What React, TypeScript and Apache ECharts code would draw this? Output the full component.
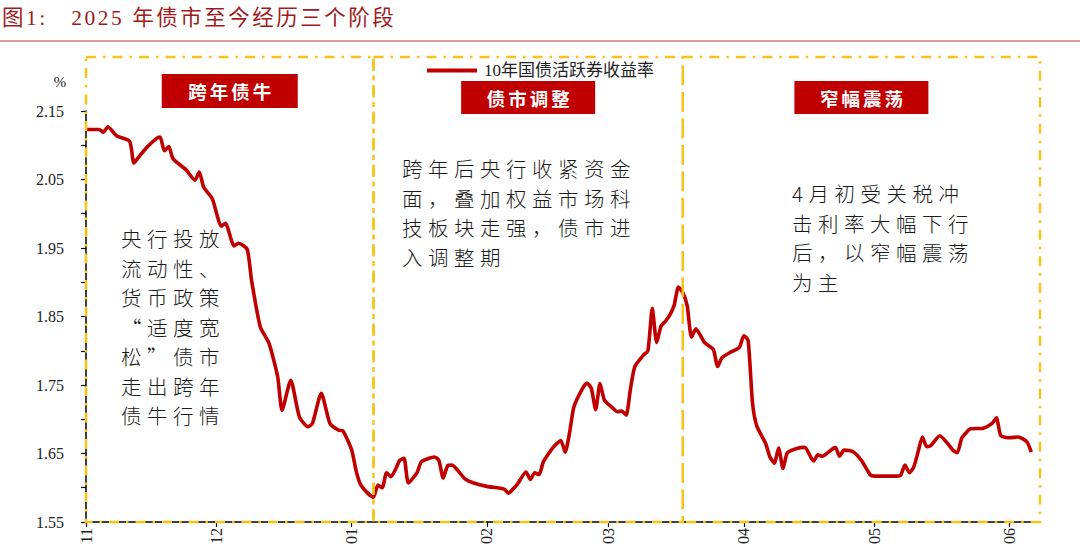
import React, { useEffect, useRef } from "react";
import * as echarts from "echarts";

// ---------------- data ----------------
const titleText = "图1:   2025 年债市至今经历三个阶段";
const seriesName = "10年国债活跃券收益率";
const unitLabel = "%";

const dates = [
  "2024-11-01", "2024-11-04", "2024-11-05", "2024-11-06", "2024-11-08", "2024-11-11", "2024-11-12",
  "2024-11-13", "2024-11-15", "2024-11-17", "2024-11-18", "2024-11-19", "2024-11-20", "2024-11-21",
  "2024-11-24", "2024-11-26", "2024-11-27", "2024-11-28", "2024-11-30", "2024-12-01", "2024-12-02",
  "2024-12-03", "2024-12-05", "2024-12-06", "2024-12-08", "2024-12-09", "2024-12-11", "2024-12-13",
  "2024-12-15", "2024-12-16", "2024-12-18", "2024-12-20", "2024-12-22", "2024-12-23", "2024-12-25",
  "2024-12-27", "2024-12-29", "2024-12-30", "2025-01-01", "2025-01-02", "2025-01-03", "2025-01-05",
  "2025-01-06", "2025-01-07", "2025-01-08", "2025-01-09", "2025-01-10", "2025-01-11", "2025-01-12",
  "2025-01-13", "2025-01-14", "2025-01-16", "2025-01-17", "2025-01-20", "2025-01-21", "2025-01-22",
  "2025-01-23", "2025-01-24", "2025-01-27", "2025-01-29", "2025-02-01", "2025-02-05", "2025-02-06",
  "2025-02-07", "2025-02-08", "2025-02-10", "2025-02-11", "2025-02-12", "2025-02-13", "2025-02-14",
  "2025-02-16", "2025-02-17", "2025-02-18", "2025-02-19", "2025-02-20", "2025-02-21", "2025-02-23",
  "2025-02-24", "2025-02-25", "2025-02-26", "2025-02-27", "2025-02-28", "2025-03-02", "2025-03-03",
  "2025-03-04", "2025-03-05", "2025-03-06", "2025-03-07", "2025-03-09", "2025-03-10", "2025-03-11",
  "2025-03-12", "2025-03-13", "2025-03-14", "2025-03-15", "2025-03-16", "2025-03-17", "2025-03-18",
  "2025-03-19", "2025-03-20", "2025-03-21", "2025-03-23", "2025-03-25", "2025-03-26", "2025-03-27",
  "2025-03-29", "2025-03-31", "2025-04-01", "2025-04-02", "2025-04-03", "2025-04-04", "2025-04-06",
  "2025-04-07", "2025-04-08", "2025-04-09", "2025-04-10", "2025-04-11", "2025-04-13", "2025-04-15",
  "2025-04-17", "2025-04-18", "2025-04-19", "2025-04-22", "2025-04-23", "2025-04-24", "2025-04-26",
  "2025-04-28", "2025-04-30", "2025-05-01", "2025-05-06", "2025-05-07", "2025-05-08", "2025-05-09",
  "2025-05-10", "2025-05-11", "2025-05-12", "2025-05-13", "2025-05-14", "2025-05-16", "2025-05-18",
  "2025-05-19", "2025-05-20", "2025-05-21", "2025-05-22", "2025-05-23", "2025-05-26", "2025-05-28",
  "2025-05-29", "2025-05-30", "2025-06-01", "2025-06-03", "2025-06-05", "2025-06-06",
];

const yields = [
  2.123, 2.123, 2.119, 2.127, 2.114, 2.106, 2.074,
  2.082, 2.097, 2.109, 2.112, 2.092, 2.098, 2.080,
  2.064, 2.049, 2.061, 2.039, 2.022, 2.000, 1.982,
  1.986, 1.953, 1.957, 1.948, 1.903, 1.835, 1.811,
  1.762, 1.713, 1.757, 1.703, 1.689, 1.694, 1.738,
  1.694, 1.684, 1.683, 1.655, 1.625, 1.605, 1.590,
  1.586, 1.604, 1.600, 1.622, 1.616, 1.626, 1.640,
  1.643, 1.607, 1.622, 1.638, 1.645, 1.640, 1.614,
  1.632, 1.633, 1.613, 1.607, 1.602, 1.598, 1.592,
  1.598, 1.605, 1.623, 1.612, 1.622, 1.619, 1.638,
  1.657, 1.664, 1.669, 1.652, 1.680, 1.718, 1.745,
  1.753, 1.745, 1.714, 1.752, 1.728, 1.716, 1.711,
  1.712, 1.706, 1.745, 1.777, 1.794, 1.800, 1.862,
  1.812, 1.836, 1.843, 1.852, 1.866, 1.893, 1.885,
  1.866, 1.820, 1.832, 1.812, 1.802, 1.777, 1.790,
  1.798, 1.805, 1.822, 1.815, 1.724, 1.690, 1.665,
  1.645, 1.636, 1.658, 1.628, 1.651, 1.657, 1.659,
  1.639, 1.648, 1.646, 1.659, 1.646, 1.655, 1.653,
  1.640, 1.619, 1.617, 1.617, 1.618, 1.633, 1.622,
  1.630, 1.652, 1.674, 1.660, 1.662, 1.676, 1.663,
  1.655, 1.651, 1.672, 1.680, 1.686, 1.687, 1.694,
  1.702, 1.676, 1.673, 1.674, 1.667, 1.652,
];

const axisStart = "2024-11-01";
const axisEnd = "2025-06-08";
const monthTicks = ["2024-11-01", "2024-12-01", "2025-01-01", "2025-02-01", "2025-03-01", "2025-04-01", "2025-05-01", "2025-06-01"];
const monthLabels = ["11", "12", "01", "02", "03", "04", "05", "06"];

const yMin = 1.55;
const yMax = 2.15;
const yInterval = 0.05;

const phaseBounds = ["2024-11-01", "2025-01-06", "2025-03-18", "2025-06-08"];
const phaseNames = ["跨年债牛", "债市调整", "窄幅震荡"];
const phaseNotes = [
  ["央行投放", "流动性、", "货币政策", "“适度宽", "松”债市", "走出跨年", "债牛行情"],
  ["跨年后央行收紧资金", "面，叠加权益市场科", "技板块走强，债市进", "入调整期"],
  ["4月初受关税冲", "击利率大幅下行", "后，以窄幅震荡", "为主"],
];

// ---------------- layout / style ----------------
const W = 1080;
const H = 547;
const RED = "#c00000";
const GOLD = "#f7c21a";
const SERIF = "'Liberation Serif', 'Times New Roman', 'Noto Sans CJK SC', serif";
const CJK = "'Noto Sans CJK SC', 'Liberation Serif', sans-serif";
const boxTop = 57;
const labelTops = [74, 81, 81];
const labelSizes = [[136, 34], [134, 33], [134, 33]];
const notePos = [[121, 238], [402, 168], [792, 193]];
const noteLineHeight = 29.5;

const css = `
text[style*="20.5px"] { letter-spacing: 5.5px; }
text[style*="21.5px"] { letter-spacing: 2.5px; }
text[style*="18.5px"] { letter-spacing: 3px; }
`;

const DAY = 86400000;
const parseDay = (s: string) => {
  const [y, m, d] = s.split("-").map(Number);
  return Date.UTC(y, m - 1, d) / DAY;
};

export default function App() {
  const ref = useRef<HTMLDivElement>(null);

  useEffect(() => {
    document.body.style.margin = "0";
    const chart = echarts.init(ref.current!, null, { renderer: "svg", width: W, height: H });
    const data = dates.map((d, i) => [parseDay(d), yields[i]]);
    const tickDays = monthTicks.map(parseDay);
    const labelMap = new Map<number, string>(tickDays.map((t, i) => [t, monthLabels[i]]));

    chart.setOption({
      animation: false,
      backgroundColor: "#fff",
      grid: { left: 86, right: 40, top: 111, bottom: 25, outerBoundsMode: "none", containLabel: false },
      legend: {
        show: true,
        left: 422,
        top: 57,
        icon: "rect",
        itemWidth: 50,
        itemHeight: 4,
        itemGap: 6,
        itemStyle: { color: RED },
        data: [seriesName],
        textStyle: { fontSize: 17, fontFamily: SERIF, color: "#222", padding: [0, 0, 0, 2] },
      },
      tooltip: { show: false },
      xAxis: {
        type: "value",
        min: parseDay(axisStart),
        max: parseDay(axisEnd),
        splitLine: { show: false },
        axisLine: { show: true, onZero: false, lineStyle: { color: "#000", width: 1.5 } },
        axisTick: { show: true, customValues: tickDays, length: 5, lineStyle: { color: "#000", width: 1.2 } },
        axisLabel: {
          customValues: tickDays,
          rotate: 90,
          margin: 6,
          fontSize: 16,
          fontFamily: SERIF,
          color: "#222",
          hideOverlap: false,
          showMinLabel: true,
          showMaxLabel: true,
          formatter: (v: number) => labelMap.get(Math.round(v)) ?? "",
        },
      },
      yAxis: {
        type: "value",
        min: yMin,
        max: yMax,
        interval: yInterval,
        splitLine: { show: false },
        axisLine: { show: true, lineStyle: { color: "#000", width: 1.5 } },
        axisTick: { show: true, length: 5, lineStyle: { color: "#000", width: 1.2 } },
        axisLabel: {
          margin: 22,
          fontSize: 16,
          fontFamily: SERIF,
          color: "#222",
          formatter: (v: number) => (Math.round(v * 100) % 10 === 5 ? v.toFixed(2) : ""),
        },
      },
      series: [
        {
          name: seriesName,
          type: "line",
          data,
          symbol: "none",
          showSymbol: false,
          smooth: 0.2,
          lineStyle: { color: RED, width: 3.6 },
          itemStyle: { color: RED },
          z: 3,
        },
      ],
    });

    const px = phaseBounds.map((d) => chart.convertToPixel({ xAxisIndex: 0 }, parseDay(d)) as number);
    const yBottom = chart.convertToPixel({ yAxisIndex: 0 }, yMin) as number;

    const graphics: any[] = [
      {
        type: "text",
        x: 2,
        y: 18,
        style: { text: titleText, fontSize: 21.5, fontFamily: SERIF, fill: "#9e1b20", verticalAlign: "middle", align: "left" },
      },
      {
        type: "line",
        shape: { x1: 0, y1: 41, x2: W, y2: 41 },
        style: { stroke: "#c8353a", lineWidth: 1.2 },
      },
      {
        type: "text",
        x: 60,
        y: 82,
        style: { text: unitLabel, fontSize: 15, fontFamily: SERIF, fill: "#222", align: "center", verticalAlign: "middle" },
      },
    ];

    phaseNames.forEach((name, i) => {
      const x0 = px[i];
      const x1 = px[i + 1];
      const cx = (x0 + x1) / 2;
      graphics.push({
        type: "rect",
        z: 20,
        shape: { x: x0, y: boxTop, width: x1 - x0, height: yBottom - boxTop },
        style: { fill: "none", stroke: GOLD, lineWidth: 2.5, lineDash: [10, 7, 2.5, 7] },
      });
      const [lw, lh] = labelSizes[i];
      graphics.push({
        type: "rect",
        z: 21,
        shape: { x: cx - lw / 2, y: labelTops[i], width: lw, height: lh },
        style: { fill: RED },
      });
      graphics.push({
        type: "text",
        z: 22,
        x: cx + 1.5,
        y: labelTops[i] + lh / 2,
        style: { text: name, fontSize: 18.5, fontWeight: "bold", fontFamily: CJK, fill: "#fff", align: "center", verticalAlign: "middle" },
      });
      const [nx, ny] = notePos[i];
      graphics.push({
        type: "text",
        z: 22,
        x: nx,
        y: ny - noteLineHeight / 2,
        style: {
          text: phaseNotes[i].join("\n"),
          fontSize: 20.5,
          lineHeight: noteLineHeight,
          fontFamily: CJK,
          fontWeight: 300,
          fill: "#1a1a1a",
          align: "left",
          verticalAlign: "top",
        },
      });
    });

    chart.setOption({ graphic: graphics });

    return () => {
      chart.dispose();
    };
  }, []);

  return (
    <div style={{ position: "fixed", left: 0, top: 0, width: W, height: H, background: "#fff" }}>
      <style>{css}</style>
      <div ref={ref} style={{ width: W, height: H }} />
    </div>
  );
}
